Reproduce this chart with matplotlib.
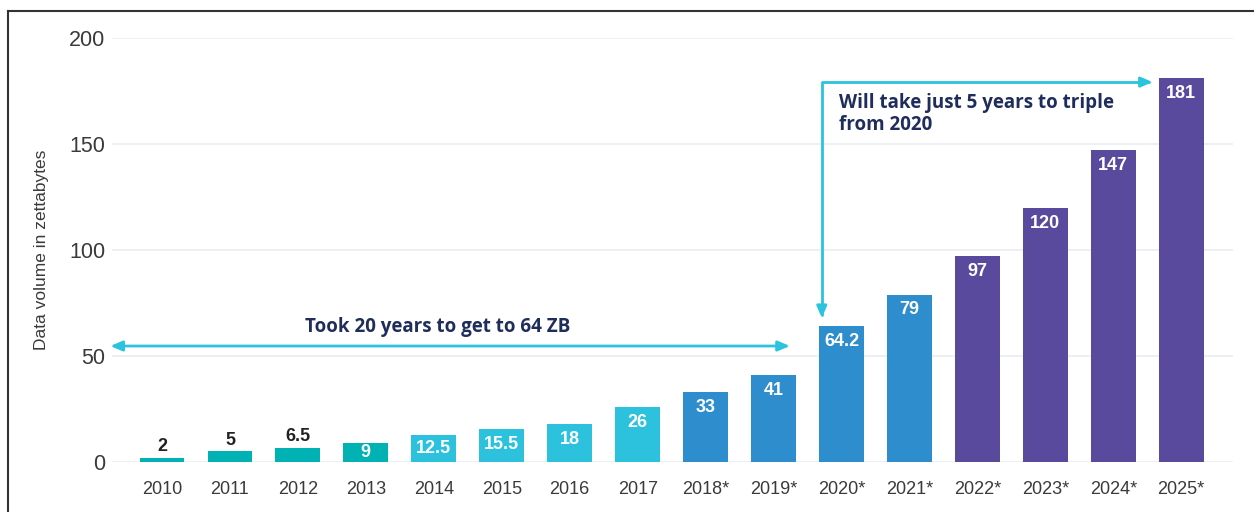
import matplotlib
matplotlib.use("Agg")
import matplotlib.pyplot as plt
from matplotlib.lines import Line2D

years = ["2010", "2011", "2012", "2013", "2014", "2015", "2016", "2017",
         "2018*", "2019*", "2020*", "2021*", "2022*", "2023*", "2024*", "2025*"]
values = [2, 5, 6.5, 9, 12.5, 15.5, 18, 26, 33, 41, 64.2, 79, 97, 120, 147, 181]
labels = ["2", "5", "6.5", "9", "12.5", "15.5", "18", "26",
          "33", "41", "64.2", "79", "97", "120", "147", "181"]
colors = ["#00b2b4"] * 4 + ["#2cc1dd"] * 4 + ["#2e8dcd"] * 4 + ["#5a4a9e"] * 4
outside = [True, True, True] + [False] * 13

ARROW = "#2cc3df"
NAVY = "#1f2d5c"
TICK = "#3a3a3a"

fig = plt.figure(figsize=(12.54, 5.12), dpi=100)
ax = fig.add_axes([0.0893, 0.0977, 0.8937, 0.8281])

x = list(range(len(years)))
ax.bar(x, values, width=0.66, color=colors, zorder=3)

for xi, v, lab, out in zip(x, values, labels, outside):
    if out:
        ax.annotate(lab, (xi, v), xytext=(0, 2), textcoords="offset points",
                    ha="center", va="bottom", fontsize=13, fontweight="bold",
                    color="#222222", family="Liberation Sans", zorder=4)
    elif v < 15:
        # short bars: centre the label in the bar
        ax.text(xi, v / 2, lab, ha="center", va="center", fontsize=13,
                fontweight="bold", color="white", family="Liberation Sans", zorder=4)
    else:
        ax.annotate(lab, (xi, v), xytext=(0, -5), textcoords="offset points",
                    ha="center", va="top", fontsize=13, fontweight="bold",
                    color="white", family="Liberation Sans", zorder=4)

ax.set_xlim(-0.736, 15.757)
ax.set_ylim(0, 200)
ax.set_yticks([0, 50, 100, 150, 200])
ax.set_xticks(x)
ax.set_xticklabels(years, fontsize=13, color=TICK, family="Liberation Sans")
for t in ax.get_yticklabels():
    t.set_fontsize(15.5); t.set_color(TICK); t.set_family("Liberation Sans")
ax.tick_params(axis="both", length=0)
ax.tick_params(axis="x", pad=14)
ax.tick_params(axis="y", pad=5)
ax.grid(axis="y", color="#e6edf2", lw=1.2, zorder=0)
for s in ax.spines.values():
    s.set_visible(False)
ax.set_ylabel("Data volume in zettabytes", fontsize=12.5, color=TICK,
              family="Liberation Sans", labelpad=14)

# double arrow: first 20 years
ax.annotate("", xy=(9.24, 54.7), xytext=(-0.76, 54.7),
            arrowprops=dict(arrowstyle="<|-|>,head_length=0.7,head_width=0.3",
                            color=ARROW, lw=2, shrinkA=0, shrinkB=0), zorder=5,
            annotation_clip=False)
ax.text(4.05, 63.8, "Took 20 years to get to 64 ZB", ha="center", va="center",
        fontsize=13.5, fontweight="bold", color=NAVY, family="Open Sans")

# elbow arrow: tripling from 2020
ax.annotate("", xy=(14.58, 179.2), xytext=(9.71, 67.9),
            arrowprops=dict(arrowstyle="<|-|>,head_length=0.7,head_width=0.3",
                            connectionstyle="angle,angleA=90,angleB=0,rad=0",
                            color=ARROW, lw=2, shrinkA=0, shrinkB=0), zorder=5)
ax.text(9.97, 174, "Will take just 5 years to triple\nfrom 2020", ha="left", va="top",
        fontsize=13.5, fontweight="bold", color=NAVY, family="Open Sans",
        linespacing=1.15)

# frame lines from the screenshot
fig.add_artist(Line2D([8 / 1254, 8 / 1254], [0, 1 - 11 / 512], color="#333333", lw=1.5))
fig.add_artist(Line2D([8 / 1254, 1], [1 - 11 / 512, 1 - 11 / 512], color="#333333", lw=1.5))

fig.savefig("out.png", dpi=100)
